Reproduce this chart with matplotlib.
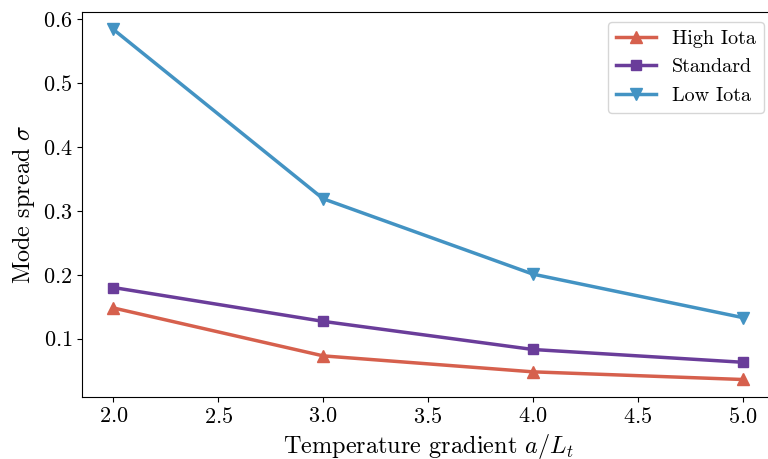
import matplotlib
matplotlib.use("Agg")
import matplotlib.pyplot as plt

plt.rcParams['font.family'] = 'serif'
plt.rcParams['font.serif'] = ['cmr10']
plt.rcParams['mathtext.fontset'] = 'cm'
plt.rcParams['axes.formatter.use_mathtext'] = True

gradient = [2.0, 3.0, 4.0, 5.0]
high_iota = [0.148, 0.073, 0.048, 0.036]
standard = [0.180, 0.127, 0.083, 0.063]
low_iota = [0.584, 0.319, 0.201, 0.133]

fig = plt.figure(figsize=(7.68, 4.59), dpi=100)
ax = fig.add_axes([82/768, 1-397/459, (774-82)/768, (397-12)/459])

ax.plot(gradient, high_iota, color='#d6604d', marker='^', lw=2.5, ms=8, label='High Iota')
ax.plot(gradient, standard, color='#6a3d9a', marker='s', lw=2.5, ms=7, label='Standard')
ax.plot(gradient, low_iota, color='#4393c3', marker='v', lw=2.5, ms=8, label='Low Iota')

ax.set_xlabel(r'Temperature gradient $a/L_t$', fontsize=17.5)
ax.set_ylabel(r'Mode spread $\sigma$', fontsize=17.5)
ax.tick_params(labelsize=16)
ax.set_yticks([0.1, 0.2, 0.3, 0.4, 0.5, 0.6])
ax.legend(loc='upper right', fontsize=14.5)

fig.savefig('out.png', dpi=100)
